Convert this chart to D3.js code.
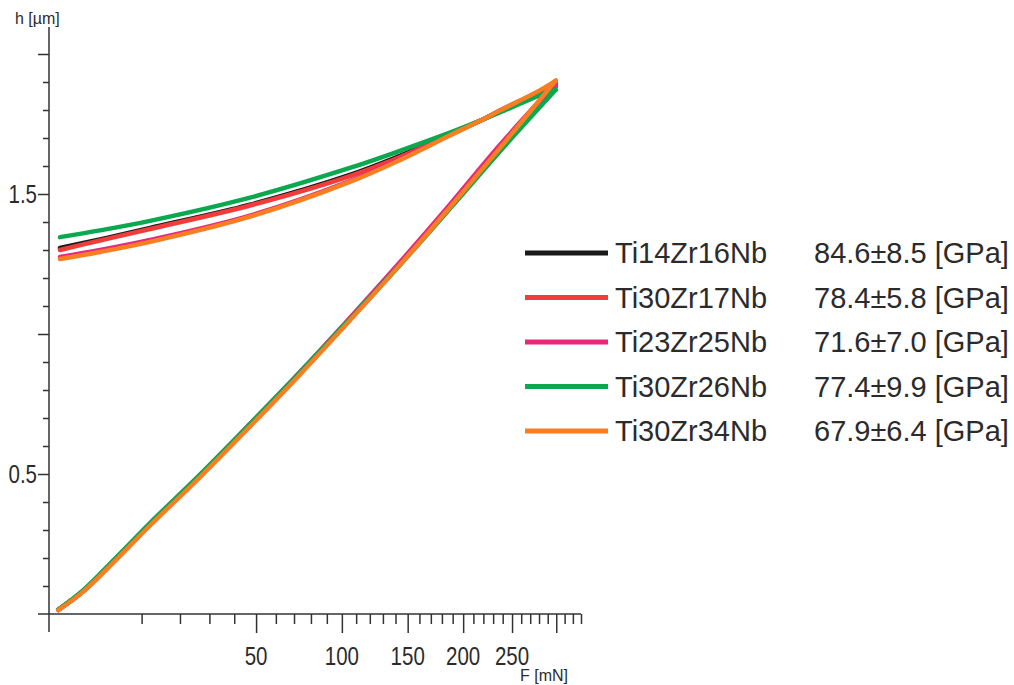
<!DOCTYPE html>
<html lang="en">
<head>
<meta charset="UTF-8">
<script src="https://d3js.org/d3.v7.min.js"></script>
<title>Load-depth curves</title>
<style>
    body { margin: 0; background: #fff; }
    svg { display: block; }
    text { font-family: 'Liberation Sans', Arial, sans-serif; fill: #2b2b2b; }
    .curve { fill: none; stroke-width: 4.5; stroke-linecap: round; stroke-linejoin: round; }
</style>
</head>
<body>
<svg id="canvas" width="1014" height="685"></svg>
<script>
// series names, moduli and colours
let names = ['Ti14Zr16Nb', 'Ti30Zr17Nb', 'Ti23Zr25Nb', 'Ti30Zr26Nb', 'Ti30Zr34Nb']
let moduli = ['84.6±8.5 [GPa]', '78.4±5.8 [GPa]', '71.6±7.0 [GPa]', '77.4±9.9 [GPa]', '67.9±6.4 [GPa]']
let colors = ['#1a1a1a', '#f23b3b', '#e8287c', '#0aa84f', '#f77f22']

// loading branch: force F [mN] and depth h [um]
let loadF = [0.1, 1.35, 5.4, 11.9, 26.6, 47, 73.4, 105.5, 143.5, 187.3, 237, 299.4]
let loadH = [
    [0.015, 0.081, 0.200, 0.320, 0.494, 0.674, 0.860, 1.053, 1.251, 1.457, 1.669, 1.885],
    [0.015, 0.081, 0.201, 0.321, 0.495, 0.675, 0.861, 1.054, 1.252, 1.458, 1.670, 1.885],
    [0.015, 0.082, 0.202, 0.323, 0.497, 0.678, 0.864, 1.057, 1.256, 1.462, 1.675, 1.895],
    [0.016, 0.084, 0.205, 0.325, 0.498, 0.678, 0.863, 1.053, 1.246, 1.447, 1.652, 1.872],
    [0.014, 0.079, 0.197, 0.316, 0.489, 0.669, 0.855, 1.048, 1.246, 1.452, 1.664, 1.905]
]

// unloading branch
let unloadF = [299.4, 280.8, 236.9, 219.4, 187.3, 143.5, 105.5, 47.1, 11.9, 3.03, 0.14]
let unloadH = [
    [1.885, 1.859, 1.795, 1.766, 1.712, 1.636, 1.568, 1.462, 1.379, 1.338, 1.307],
    [1.885, 1.859, 1.795, 1.766, 1.712, 1.632, 1.564, 1.459, 1.375, 1.334, 1.300],
    [1.895, 1.866, 1.798, 1.766, 1.712, 1.625, 1.546, 1.423, 1.336, 1.300, 1.275],
    [1.872, 1.852, 1.791, 1.766, 1.719, 1.654, 1.593, 1.487, 1.404, 1.370, 1.346],
    [1.905, 1.870, 1.798, 1.766, 1.709, 1.621, 1.543, 1.419, 1.329, 1.293, 1.268]
]

// axis ticks
let xMajor = [50, 100, 150, 200, 250, 300]
let xLabels = [50, 100, 150, 200, 250]
let xMinor = d3.range(10, 331, 10).filter(v => xMajor.indexOf(v) < 0)
let yMajor = [0.5, 1.0, 1.5, 2.0]
let yLabels = [0.5, 1.5]
let yMinor = d3.range(1, 21).map(v => v / 10).filter(v => yMajor.indexOf(v) < 0)

let canvas = d3.select('#canvas')

let x = d3.scaleSqrt().domain([0, 330]).range([49, 581])
let y = d3.scaleLinear().domain([0, 2.1]).range([614, 26])

// x axis
let gx = canvas.append('g').attr('transform', 'translate(0,614)')
gx.call(d3.axisBottom(x).tickValues(xMinor).tickSize(10).tickSizeOuter(0).tickFormat(''))
gx.append('g').call(d3.axisBottom(x).tickValues(xMajor).tickSize(19).tickSizeOuter(0).tickFormat(''))
gx.selectAll('.domain').remove()
gx.selectAll('line').attr('stroke', '#333').attr('stroke-width', 1.5)

// y axis
let gy = canvas.append('g').attr('transform', 'translate(49,0)')
gy.call(d3.axisLeft(y).tickValues(yMinor).tickSize(6).tickSizeOuter(0).tickFormat(''))
gy.append('g').call(d3.axisLeft(y).tickValues(yMajor).tickSize(11).tickSizeOuter(0).tickFormat(''))
gy.selectAll('.domain').remove()
gy.selectAll('line').attr('stroke', '#333').attr('stroke-width', 1.5)

canvas.append('line').attr('x1', 38).attr('x2', 581).attr('y1', 614).attr('y2', 614)
    .attr('stroke', '#333').attr('stroke-width', 1.5)
canvas.append('line').attr('x1', 49).attr('x2', 49).attr('y1', 27).attr('y2', 632)
    .attr('stroke', '#333').attr('stroke-width', 1.5)

// tick labels (narrow face)
canvas.selectAll('.xlab').data(xLabels).enter().append('text')
    .attr('class', 'xlab')
    .attr('transform', d => 'translate(' + x(d) + ',665) scale(0.82,1)')
    .attr('text-anchor', 'middle')
    .style('font-size', '25px')
    .text(d => d)

canvas.selectAll('.ylab').data(yLabels).enter().append('text')
    .attr('class', 'ylab')
    .attr('transform', d => 'translate(37,' + (y(d) + 9) + ') scale(0.82,1)')
    .attr('text-anchor', 'end')
    .style('font-size', '25px')
    .text(d => d.toFixed(1))

canvas.append('text').attr('x', 15).attr('y', 24).style('font-size', '16px').text('h [µm]')
canvas.append('text').attr('x', 520).attr('y', 681).style('font-size', '16px').text('F [mN]')

// curves
let line = d3.line().x(d => x(d[0])).y(d => y(d[1])).curve(d3.curveCatmullRom.alpha(0.5))

names.forEach((name, i) => {
    let loading = loadF.map((f, j) => [f, loadH[i][j]])
    let unloading = unloadF.map((f, j) => [f, unloadH[i][j]]).reverse()
    canvas.append('path').attr('class', 'curve').attr('d', line(loading)).attr('stroke', colors[i])
    canvas.append('path').attr('class', 'curve').attr('d', line(unloading)).attr('stroke', colors[i])
})

// legend
let legend = canvas.selectAll('.leg').data(names).enter().append('g')
    .attr('class', 'leg')
    .attr('transform', (d, i) => 'translate(0,' + (253 + i * 44.5) + ')')

legend.append('line').attr('x1', 525).attr('x2', 608).attr('y1', 0).attr('y2', 0)
    .attr('stroke', (d, i) => colors[i]).attr('stroke-width', 5)
legend.append('text').attr('x', 615).attr('y', 10).style('font-size', '29px').text(d => d)
legend.append('text').attr('x', 814).attr('y', 10).style('font-size', '29px').text((d, i) => moduli[i])
</script>
</body>
</html>
